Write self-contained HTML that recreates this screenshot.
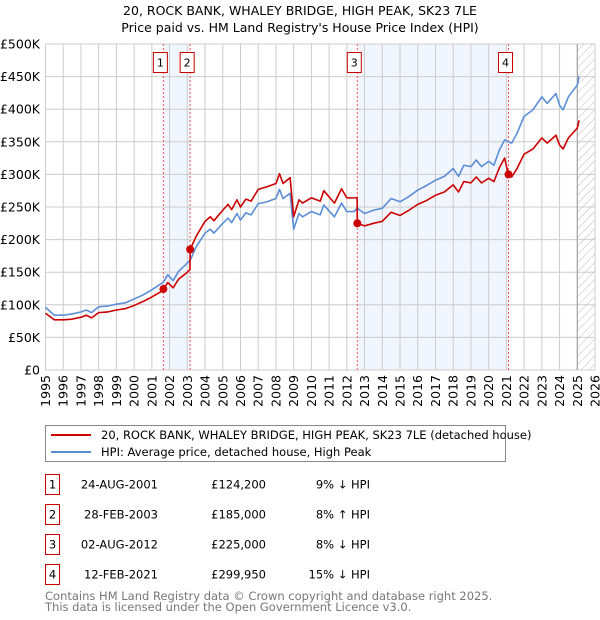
<!DOCTYPE html>
<html><head><meta charset="utf-8">
<style>
body{margin:0;background:#fff;font-family:"Liberation Sans","DejaVu Sans",sans-serif;}
svg{display:block}
</style></head>
<body>
<svg id="chart" width="600" height="620" xmlns="http://www.w3.org/2000/svg" font-family="DejaVu Sans, Liberation Sans, sans-serif">
<defs>
<pattern id="hatch" width="6" height="6" patternUnits="userSpaceOnUse" patternTransform="rotate(45)">
<line x1="0" y1="0" x2="0" y2="6" stroke="#bbb" stroke-width="1"/>
</pattern>
</defs>
<text x="300" y="15" text-anchor="middle" font-size="12.5">20, ROCK BANK, WHALEY BRIDGE, HIGH PEAK, SK23 7LE</text>
<text x="300" y="32" text-anchor="middle" font-size="12.5">Price paid vs. HM Land Registry's House Price Index (HPI)</text>
<g id="plot"></g>
<g>
<rect x="45.5" y="425.5" width="460" height="36" fill="#fff" stroke="#888"/>
<line x1="51" y1="435" x2="91" y2="435" stroke="#cc0000" stroke-width="2"/>
<text x="101" y="439" font-size="11.5">20, ROCK BANK, WHALEY BRIDGE, HIGH PEAK, SK23 7LE (detached house)</text>
<line x1="51" y1="452" x2="91" y2="452" stroke="#5b8ed6" stroke-width="2"/>
<text x="101" y="456" font-size="11.5">HPI: Average price, detached house, High Peak</text>
</g>
<g id="table" font-size="11.5"></g>
<text x="45" y="600" font-size="11.5" fill="#777">Contains HM Land Registry data © Crown copyright and database right 2025.</text>
<text x="45" y="611" font-size="11.5" fill="#777">This data is licensed under the Open Government Licence v3.0.</text>
</svg>
<script>
const dates=[1995.0,1995.5,1996.0,1996.5,1997.0,1997.3,1997.6,1998.0,1998.5,1999.0,1999.5,2000.0,2000.5,2001.0,2001.5,2001.65,2001.9,2002.2,2002.5,2003.0,2003.15,2003.16,2003.5,2004.0,2004.3,2004.5,2005.0,2005.3,2005.5,2005.8,2006.0,2006.3,2006.6,2007.0,2007.5,2008.0,2008.2,2008.4,2008.8,2009.0,2009.3,2009.5,2010.0,2010.5,2010.7,2011.3,2011.7,2012.0,2012.4,2012.58,2012.59,2013.0,2013.5,2014.0,2014.5,2015.0,2015.5,2016.0,2016.5,2017.0,2017.5,2018.0,2018.3,2018.6,2019.0,2019.3,2019.6,2020.0,2020.3,2020.6,2020.9,2021.11,2021.3,2021.6,2022.0,2022.5,2023.0,2023.3,2023.8,2024.0,2024.2,2024.5,2025.0,2025.1];
const hpiValues=[96,84,84,86,89,92,88,97,98,101,103,109,115,123,132,135,146,137,151,164,168,168,189,210,216,210,225,233,226,240,230,241,238,255,258,263,277,263,271,216,240,235,243,238,253,235,256,243,243,248,248,240,245,248,263,258,266,276,283,291,297,309,297,314,312,322,312,320,314,337,353,350,348,363,389,399,419,409,424,406,399,419,437,450];
const priceValues=[87,77,77,78,81,84,80,88,89,92,94,99,105,112,120,124.2,134,126,139,150,154,185,205,228,235,229,245,254,246,261,250,262,259,277,281,286,301,286,295,235,261,256,264,259,275,256,278,264,264,264,225,221,225,228,242,237,245,254,260,268,273,284,273,289,287,296,287,294,289,310,325,300,296,309,331,339,356,348,360,345,339,356,371,383];
const saleDates=[2001.65,2003.16,2012.59,2021.12];
const salePrices=[124.2,185,225,299.95];
const saleLabels=["1","2","3","4"];
const saleDateText=["24-AUG-2001","28-FEB-2003","02-AUG-2012","12-FEB-2021"];
const salePriceText=["£124,200","£185,000","£225,000","£299,950"];
const saleDiffText=["9% ↓ HPI","8% ↑ HPI","8% ↓ HPI","15% ↓ HPI"];
const yTicks=[0,50,100,150,200,250,300,350,400,450,500];
const yTickLabels=["£0","£50K","£100K","£150K","£200K","£250K","£300K","£350K","£400K","£450K","£500K"];
const xTicks=[1995,1996,1997,1998,1999,2000,2001,2002,2003,2004,2005,2006,2007,2008,2009,2010,2011,2012,2013,2014,2015,2016,2017,2018,2019,2020,2021,2022,2023,2024,2025,2026];
const dataEnd=2025.0;

const NS="http://www.w3.org/2000/svg";
const X0=45.5,X1=595,Y0=370,Y1=44;
const xs=y=>X0+(y-1995)/(2026-1995)*(X1-X0);
const ys=v=>Y0-v/500*(Y0-Y1);
const plot=document.getElementById('plot');
function mk(tag,attrs,parent){const e=document.createElementNS(NS,tag);for(const k in attrs)e.setAttribute(k,attrs[k]);(parent||plot).appendChild(e);return e;}

// shading between sales
for(let i=0;i<saleDates.length;i+=2){
  const r=mk('rect',{x:xs(saleDates[i]),y:Y1,width:xs(saleDates[i+1])-xs(saleDates[i]),height:Y0-Y1,fill:'#eef3fc',opacity:0.8});
  
  
}
// grid
yTicks.forEach((t,i)=>{
  const l=mk('line',{x1:X0,x2:X1,y1:ys(t),y2:ys(t),stroke:'#cccccc','stroke-width':1});
  
  
  const tx=mk('text',{x:40,y:ys(t)+4.5,'text-anchor':'end','font-size':12.5});
  tx.textContent=yTickLabels[i];
  
  
});
xTicks.forEach(t=>{
  const l=mk('line',{x1:xs(t),x2:xs(t),y1:Y1,y2:Y0,stroke:'#cccccc','stroke-width':1});
  
  
  const tx=mk('text',{x:0,y:0,'text-anchor':'end','font-size':12.5,transform:`translate(${xs(t)+4.5},375) rotate(-90)`});
  tx.textContent=t;
  
  
});
// hatched future
const h=mk('rect',{x:xs(dataEnd),y:Y1,width:X1-xs(dataEnd),height:Y0-Y1,fill:'url(#hatch)'});


const hl=mk('line',{x1:xs(dataEnd),x2:xs(dataEnd),y1:Y1,y2:Y0,stroke:'#999','stroke-width':1});


// sale vlines and labels
saleDates.forEach((d,i)=>{
  const l=mk('line',{x1:xs(d),x2:xs(d),y1:Y1,y2:Y0,stroke:'#ee5555','stroke-width':1,'stroke-dasharray':'2,2'});
  
  
  const b=mk('rect',{x:xs(d)-10,y:52.5,width:14,height:20,fill:'#fff',stroke:'#cc0000'});
  
  
  const t=mk('text',{x:xs(d)-3,y:66.5,'text-anchor':'middle','font-size':11});
  t.textContent=saleLabels[i];
  
  
});
// lines
function path(vals){return vals.map((v,i)=>(i?'L':'M')+xs(dates[i]).toFixed(2)+','+ys(v).toFixed(2)).join('');}
const hp=mk('path',{d:path(hpiValues),fill:'none',stroke:'#5b8ed6','stroke-width':1.6,'stroke-linejoin':'round'});


const pp=mk('path',{d:path(priceValues),fill:'none',stroke:'#cc0000','stroke-width':1.6,'stroke-linejoin':'round'});


saleDates.forEach((d,i)=>{
  const c=mk('circle',{cx:xs(d),cy:ys(salePrices[i]),r:4,fill:'#cc0000'});
  
  
});
// table
const tb=document.getElementById('table');
saleLabels.forEach((lab,i)=>{
  const y=483+i*30;
  const b=mk('rect',{x:45.5,y:y-8.5,width:14,height:20,fill:'#fff',stroke:'#cc0000'},tb);
  
  
  const t0=mk('text',{x:52.5,y:y+5.5,'text-anchor':'middle'},tb);t0.textContent=lab;
  
  
  const t1=mk('text',{x:158,y:y+5.5,'text-anchor':'end'},tb);t1.textContent=saleDateText[i];
  
  
  const t2=mk('text',{x:266,y:y+5.5,'text-anchor':'end'},tb);t2.textContent=salePriceText[i];
  
  
  const t3=mk('text',{x:370,y:y+5.5,'text-anchor':'end'},tb);t3.textContent=saleDiffText[i];
  
  
});
</script>
</body></html>
